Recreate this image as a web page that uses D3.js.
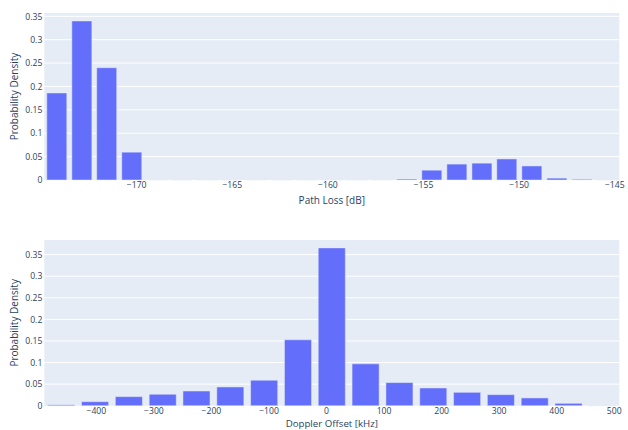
<!DOCTYPE html>
<html>
<head>
<meta charset="utf-8">
<script src="https://cdn.jsdelivr.net/npm/d3@7"></script>
<style>
  html, body { margin: 0; padding: 0; background: #fff; }
  svg { display: block; }
  text { font-family: "Open Sans", Verdana, Arial, sans-serif; fill: #2a3f5f; }
</style>
</head>
<body>
<svg id="chart" width="628" height="430"></svg>
<script>
// Path loss histogram: bin centres [dB] and probability per bin
const pathLossCenters = [-174.15, -172.84, -171.54, -170.23, -168.92, -167.61, -166.31, -165.00,
  -163.69, -162.38, -161.08, -159.77, -158.46, -157.15, -155.85, -154.54, -153.23, -151.92,
  -150.62, -149.31, -148.00, -146.69, -145.39];
const pathLossValues = [0.186, 0.340, 0.240, 0.0595, 0, 0, 0, 0, 0, 0, 0, 0, 0, 0,
  0.002, 0.021, 0.034, 0.036, 0.045, 0.030, 0.004, 0.0015, 0];
const pathLossBinWidth = 1.3075;
const pathLossTicks = [-170, -165, -160, -155, -150, -145];

// Doppler offset histogram: bin centres [kHz] and probability per bin
const dopplerCenters = [-460.2, -401.4, -342.6, -283.8, -225.1, -166.3, -107.5, -48.7, 10.0,
  68.8, 127.6, 186.4, 245.2, 303.9, 362.7, 421.5, 480.3];
const dopplerValues = [0.002, 0.0093, 0.021, 0.0265, 0.034, 0.0434, 0.059, 0.1526, 0.3656,
  0.0969, 0.0535, 0.041, 0.031, 0.0256, 0.018, 0.0055, 0];
const dopplerBinWidth = 58.78;
const dopplerTicks = [-400, -300, -200, -100, 0, 100, 200, 300, 400, 500];

const densityTicks = [0, 0.05, 0.1, 0.15, 0.2, 0.25, 0.3, 0.35];

const svg = d3.select("#chart");
const fmtY = d => (d === 0 ? "0" : String(+d.toFixed(2)));
const fmtX = d3.format("d");

function histogramPanel(cfg) {
  const { centers, values, binWidth, xTicks, xTitle, top, bottom, titleOffset, titleSize } = cfg;
  const left = 44.3, right = 619.3;

  const x = d3.scaleLinear()
    .domain([d3.min(centers) - binWidth / 2, d3.max(centers) + binWidth / 2])
    .range([left, right]);
  const y = d3.scaleLinear()
    .domain([0, d3.max(values) * 1.05])
    .range([bottom, top]);

  const g = svg.append("g");

  // plot background
  g.append("rect")
    .attr("x", left).attr("y", top)
    .attr("width", right - left).attr("height", bottom - top)
    .attr("fill", "#E5ECF6");

  // horizontal grid
  g.append("g")
    .selectAll("line")
    .data(densityTicks.filter(t => t > 0 && t <= y.domain()[1]))
    .join("line")
    .attr("x1", left).attr("x2", right)
    .attr("y1", d => y(d)).attr("y2", d => y(d))
    .attr("stroke", "#ffffff").attr("stroke-width", 1);

  // bars (drawn as paths so empty bins still show their outline)
  const barW = binWidth * 0.8;
  g.append("g")
    .selectAll("path")
    .data(centers.map((c, i) => ({ c, v: values[i] })))
    .join("path")
    .attr("d", d => {
      const x0 = x(d.c - barW / 2), x1 = x(d.c + barW / 2);
      const y0 = y(0), y1 = y(d.v);
      return `M${x0},${y0}V${y1}H${x1}V${y0}Z`;
    })
    .attr("fill", "#636efa")
    .attr("stroke", "#E5ECF6")
    .attr("stroke-width", 0.5);

  // y axis labels
  const yAxis = d3.axisLeft(y).tickValues(densityTicks.filter(t => t <= y.domain()[1]))
    .tickFormat(fmtY).tickSize(0).tickPadding(0);
  const ya = g.append("g").attr("transform", `translate(${left - 2},0)`).call(yAxis);
  ya.select(".domain").remove();
  ya.selectAll("text").attr("font-size", 8.6).attr("fill", "#2a3f5f")
    .style("font-family", '"Open Sans", Verdana, Arial, sans-serif');

  // x axis labels
  const xAxis = d3.axisBottom(x).tickValues(xTicks).tickFormat(fmtX).tickSize(0).tickPadding(0);
  const xa = g.append("g").attr("transform", `translate(0,${bottom + 2})`).call(xAxis);
  xa.select(".domain").remove();
  xa.selectAll("text").attr("font-size", 8.6).attr("fill", "#2a3f5f")
    .style("font-family", '"Open Sans", Verdana, Arial, sans-serif');

  // axis titles
  g.append("text")
    .attr("x", (left + right) / 2).attr("y", bottom + titleOffset)
    .attr("text-anchor", "middle").attr("font-size", titleSize)
    .text(xTitle);
  g.append("text")
    .attr("transform", `translate(17.5,${(top + bottom) / 2}) rotate(-90)`)
    .attr("text-anchor", "middle").attr("font-size", 10)
    .text("Probability Density");
}

histogramPanel({
  centers: pathLossCenters, values: pathLossValues, binWidth: pathLossBinWidth,
  xTicks: pathLossTicks, xTitle: "Path Loss [dB]", top: 13, bottom: 180,
  titleOffset: 23.5, titleSize: 10
});
histogramPanel({
  centers: dopplerCenters, values: dopplerValues, binWidth: dopplerBinWidth,
  xTicks: dopplerTicks, xTitle: "Doppler Offset [kHz]", top: 240, bottom: 405.7,
  titleOffset: 21.6, titleSize: 9.7
});
</script>
</body>
</html>
